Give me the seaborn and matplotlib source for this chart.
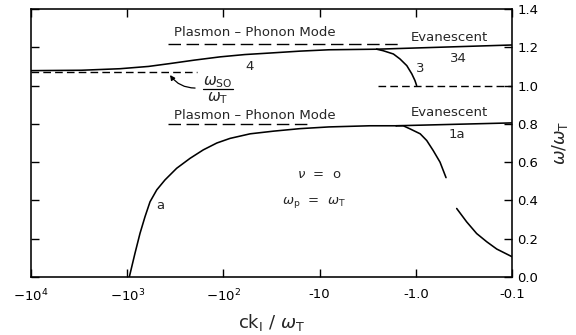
import matplotlib
matplotlib.use("Agg")
import matplotlib.pyplot as plt
from matplotlib.ticker import FixedLocator, NullLocator
import pandas as pd
import seaborn as sns

# ---- dispersion data: ck_I / omega_T (negative) and omega / omega_T ----
# surface mode "a" rising to the lower plasmon-phonon mode
mode_a_ck = [-951, -830, -736, -653, -579, -493, -405, -306, -222, -162, -117,
             -85.4, -52.7, -30, -16, -8, -3, -1.6]
mode_a_w = [0.0, 0.124, 0.228, 0.315, 0.393, 0.455, 0.507, 0.568, 0.620,
            0.664, 0.700, 0.724, 0.748, 0.762, 0.775, 0.784, 0.79, 0.79]
# lower evanescent continuation
evan_low_ck = [-1.6, -0.1]
evan_low_w = [0.79, 0.805]
# branch 1a (two pieces)
mode_1a_ck_1 = [-1.6, -1.35, -1.15, -0.90, -0.77, -0.66, -0.56, -0.485]
mode_1a_w_1 = [0.79, 0.79, 0.774, 0.748, 0.713, 0.661, 0.600, 0.519]
mode_1a_ck_2 = [-0.376, -0.296, -0.233, -0.183, -0.144, -0.1]
mode_1a_w_2 = [0.358, 0.288, 0.227, 0.184, 0.146, 0.106]
# upper mode 4
mode_4_ck = [-10000, -3000, -1190, -600, -359, -200, -108, -60, -32.8, -15.9,
             -8, -2.55]
mode_4_w = [1.078, 1.08, 1.088, 1.10, 1.115, 1.133, 1.15, 1.162, 1.17, 1.18,
            1.187, 1.19]
# upper evanescent continuation
evan_up_ck = [-2.55, -0.1]
evan_up_w = [1.19, 1.212]
# branch 3
mode_3_ck = [-2.55, -2.18, -1.71, -1.46, -1.24, -1.10, -1.02, -0.98]
mode_3_w = [1.19, 1.182, 1.165, 1.139, 1.104, 1.061, 1.026, 1.0]
# reference levels (dashed)
pp_up_ck = [-377, -1.46]
pp_up_w = [1.215, 1.215]
pp_low_ck = [-377, -12]
pp_low_w = [0.80, 0.80]
wso_ck = [-10000, -188]
wso_w = [1.071, 1.071]
one_ck = [-2.47, -0.1]
one_w = [1.0, 1.0]

x_ticks = [-1e4, -1e3, -1e2, -10, -1.0, -0.1]
x_tick_labels = [r"$-10^4$", r"$-10^3$", r"$-10^2$", "-10", "-1.0", "-0.1"]
y_ticks = [0.0, 0.2, 0.4, 0.6, 0.8, 1.0, 1.2, 1.4]

sns.set_theme(style="ticks")
plt.rcParams["font.family"] = ["DejaVu Sans"]
plt.rcParams["mathtext.fontset"] = "dejavusans"

fig = plt.figure(figsize=(5.76, 3.35), dpi=100)
ax = fig.add_axes([31 / 576, 58 / 335, 481 / 576, 268 / 335])


def draw(ck, w, **kw):
    df = pd.DataFrame({"k": [-v for v in ck], "w": w})
    sns.lineplot(data=df, x="k", y="w", sort=False, estimator=None,
                 color="black", ax=ax, **kw)


solid = dict(linewidth=1.15)
draw(mode_a_ck, mode_a_w, **solid)
draw(evan_low_ck, evan_low_w, **solid)
draw(mode_1a_ck_1, mode_1a_w_1, **solid)
draw(mode_1a_ck_2, mode_1a_w_2, **solid)
draw(mode_4_ck, mode_4_w, **solid)
draw(evan_up_ck, evan_up_w, **solid)
draw(mode_3_ck, mode_3_w, **solid)

draw(pp_up_ck, pp_up_w, linewidth=1.0, linestyle=(0, (9, 4)))
draw(pp_low_ck, pp_low_w, linewidth=1.0, linestyle=(0, (9, 4)))
draw(wso_ck, wso_w, linewidth=1.0, linestyle=(0, (5.5, 3)))
draw(one_ck, one_w, linewidth=1.0, linestyle=(0, (5.5, 3)))

ax.set_xscale("log")
ax.set_xlim(1e4, 0.1)
ax.set_ylim(0, 1.4)
ax.xaxis.set_major_locator(FixedLocator([-v for v in x_ticks]))
ax.xaxis.set_minor_locator(NullLocator())
ax.set_xticklabels(x_tick_labels)
ax.yaxis.set_major_locator(FixedLocator(y_ticks))
ax.set_yticklabels([f"{v:.1f}" for v in y_ticks])

ax.tick_params(axis="both", which="major", direction="in", length=6,
               width=1.0, colors="black", labelsize=9.5,
               top=True, bottom=True, left=True, right=True,
               labelleft=False, labelright=True)
ax.tick_params(axis="x", pad=8)
ax.tick_params(axis="y", pad=4)
for s in ax.spines.values():
    s.set_linewidth(1.15)
    s.set_color("black")

ax.set_xlabel(r"ck$_{\rm I}$ / $\omega_{\rm T}$", fontsize=13, labelpad=5)
ax.yaxis.set_label_position("right")
ax.set_ylabel(r"$\omega/\omega_{\rm T}$", fontsize=12.5, labelpad=8)

fs = 9.5
ax.text(47, 1.275, "Plasmon \u2013 Phonon Mode", fontsize=fs, ha="center", va="center")
ax.text(47, 0.846, "Plasmon \u2013 Phonon Mode", fontsize=fs, ha="center", va="center")
ax.text(0.45, 1.249, "Evanescent", fontsize=fs, ha="center", va="center")
ax.text(0.45, 0.857, "Evanescent", fontsize=fs, ha="center", va="center")
ax.text(53, 1.10, "4", fontsize=fs, ha="center", va="center")
ax.text(0.90, 1.09, "3", fontsize=fs, ha="center", va="center")
ax.text(0.36, 1.144, "34", fontsize=fs, ha="center", va="center")
ax.text(0.37, 0.742, "1a", fontsize=fs, ha="center", va="center")
ax.text(456, 0.376, "a", fontsize=fs, ha="center", va="center")
ax.text(17.2, 0.533, r"$\nu$  =  o", fontsize=fs, ha="left", va="center")
ax.text(24.6, 0.387, r"$\omega_{\rm p}$  =  $\omega_{\rm T}$", fontsize=fs,
        ha="left", va="center")

# omega_SO / omega_T label with fraction bar and pointer
ax.text(114, 1.016, r"$\omega_{\rm SO}$", fontsize=11, ha="center", va="center")
ax.text(114, 0.932, r"$\omega_{\rm T}$", fontsize=11, ha="center", va="center")
ax.plot([163, 79.4], [0.982, 0.982], color="black", lw=0.9)
ax.annotate("", xy=(359, 1.055), xytext=(197, 0.987),
            arrowprops=dict(arrowstyle="-|>", color="black", lw=0.9,
                            mutation_scale=7, shrinkA=0, shrinkB=0,
                            connectionstyle="arc3,rad=-0.25"))

fig.savefig("out.png", dpi=100)
